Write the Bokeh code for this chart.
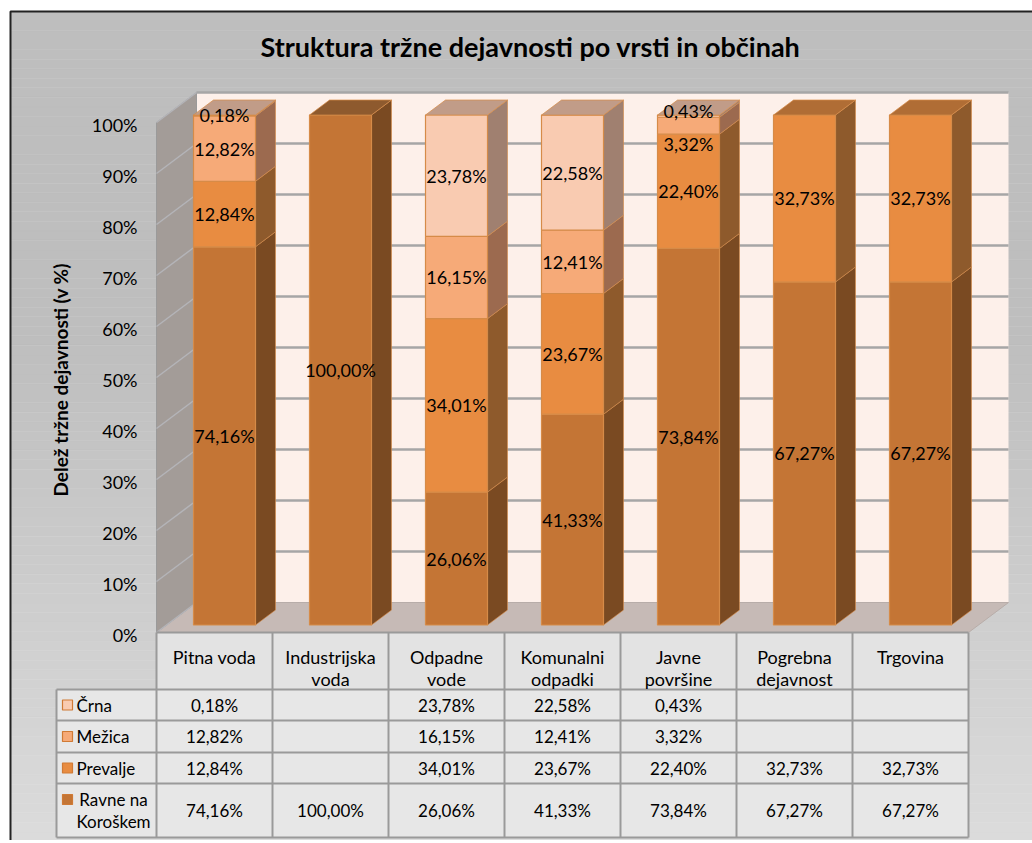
import numpy as np
from bokeh.plotting import figure
from bokeh.models import Range1d
from bokeh.core.properties import value
from bokeh.embed import file_html
from bokeh.resources import INLINE

# ---------------- data ----------------
title_text = "Struktura tržne dejavnosti po vrsti in občinah"
y_axis_title = "Delež tržne dejavnosti  (v %)"
categories = ["Pitna voda", "Industrijska voda", "Odpadne vode", "Komunalni odpadki",
              "Javne površine", "Pogrebna dejavnost", "Trgovina"]
category_lines = [["Pitna voda"], ["Industrijska", "voda"], ["Odpadne", "vode"],
                  ["Komunalni", "odpadki"], ["Javne", "površine"], ["Pogrebna", "dejavnost"],
                  ["Trgovina"]]
series_names = ["Ravne na Koroškem", "Prevalje", "Mežica", "Črna"]   # stacking order (bottom -> top)
legend_labels = ["Ravne na\nKoroškem", "Prevalje", "Mežica", "Črna"]
ravne = [74.16, 100.00, 26.06, 41.33, 73.84, 67.27, 67.27]
prevalje = [12.84, None, 34.01, 23.67, 22.40, 32.73, 32.73]
mezica = [12.82, None, 16.15, 12.41, 3.32, None, None]
crna = [0.18, None, 23.78, 22.58, 0.43, None, None]
series_values = [ravne, prevalje, mezica, crna]
y_ticks = [0, 10, 20, 30, 40, 50, 60, 70, 80, 90, 100]

# ---------------- styles ----------------
front_col = {"Ravne na Koroškem": "#C47535", "Prevalje": "#E88C41", "Mežica": "#F6AA78", "Črna": "#F9CBB1"}
side_col = {"Ravne na Koroškem": "#7A4A22", "Prevalje": "#8E5A2C", "Mežica": "#9C6A4F", "Črna": "#A08070"}
top_col = {"Ravne na Koroškem": "#8E5A2E", "Prevalje": "#B06D35", "Mežica": "#C39A80", "Črna": "#C19C88"}
edge_col = "#D68B48"
FONT = "Lato"
# nudges (pixels, + = down) for crowded data labels, as in the original
label_nudge = {(4, "Črna"): -5, (4, "Mežica"): 18}

# ---------------- geometry (page pixels -> data units) ----------------
W, H = 1032, 840
ORG_X, ORG_Y = 0, 0
PX_CAT, X_CAT0 = 116.0, 214.0       # pixels per category, page x of category 0
PX_PCT, Y_PCT0 = 5.1, 632.0         # pixels per percent, page y of 0 %
def px2x(px): return (px - X_CAT0) / PX_CAT
def py2y(py): return (Y_PCT0 - py) / PX_PCT
def dpx(d): return d / PX_CAT
def dpy(d): return d / PX_PCT

DEPTH_DX, DEPTH_DY = dpx(40), dpy(30)   # full depth offset of the 3D box
BAR_D0, BAR_DEPTH = 0.25, 0.5
BAR_HALF = dpx(62) / 2
n = len(categories)
x_lo, x_hi = -0.5, n - 0.5

p = figure(width=W, height=H, output_backend="svg", toolbar_location=None,
           x_range=Range1d(px2x(ORG_X), px2x(ORG_X + W)), y_range=Range1d(py2y(ORG_Y + H), py2y(ORG_Y)),
           x_axis_location=None, y_axis_location=None, min_border=0)
p.grid.visible = False
p.outline_line_color = None
p.background_fill_color = "white"
p.border_fill_color = "white"

# ---- chart area background (vertical gradient) ----
bands = np.linspace(11, 860, 90)
b_top = py2y(bands[:-1]); b_bot = py2y(bands[1:])
mid = (bands[:-1] + bands[1:]) / 2
g = np.clip(190 + (mid - 330) / (843 - 330) * 30, 190, 222).astype(int)
cols = ["#%02x%02x%02x" % (v, v, v) for v in g]
p.quad(left=px2x(10), right=px2x(1060), top=b_top, bottom=b_bot, fill_color=cols, line_color=cols, line_width=0.5)
p.quad(left=px2x(10), right=px2x(1060), top=py2y(11), bottom=py2y(860), fill_color=None,
       line_color="#222222", line_width=2)

# ---- 3D walls ----
bx0, bx1 = x_lo + DEPTH_DX, x_hi + DEPTH_DX
p.quad(left=bx0, right=bx1, bottom=DEPTH_DY, top=100 + DEPTH_DY, fill_color="#FDF0EA", line_color=None)
p.patch([x_lo, x_hi, bx1, bx0], [0, 0, DEPTH_DY, DEPTH_DY], fill_color="#C6BAB6", line_color="#B8ADA9", line_width=1)
p.patch([x_lo, x_lo, bx0, bx0], [0, 100, 100 + DEPTH_DY, DEPTH_DY], fill_color="#A39C98",
        line_color="#9A9A9A", line_width=1)
gt = [t for t in y_ticks if t > 0]
p.segment(x0=[bx0] * len(gt), x1=[bx1] * len(gt), y0=[t + DEPTH_DY for t in gt], y1=[t + DEPTH_DY for t in gt],
          line_color="#A6A6A6", line_width=2.5)
p.segment(x0=[x_lo] * len(y_ticks), x1=[bx0] * len(y_ticks), y0=y_ticks, y1=[t + DEPTH_DY for t in y_ticks],
          line_color="#B4B4B8", line_width=1.5)

# ---- stacked 3D bars ----
fx_off, fy_off = BAR_D0 * DEPTH_DX, BAR_D0 * DEPTH_DY
sdx, sdy = BAR_DEPTH * DEPTH_DX, BAR_DEPTH * DEPTH_DY
bottoms = [0.0] * n
top_series = [None] * n
for name, vals in zip(series_names, series_values):
    for i, v in enumerate(vals):
        if v:
            top_series[i] = name

lab_x, lab_y, lab_t, lab_off = [], [], [], []
for name, vals in zip(series_names, series_values):
    fl, fr, fb, ft = [], [], [], []
    sxs, sys_ = [], []
    txs, tys = [], []
    for i, v in enumerate(vals):
        if not v:
            continue
        b, t = bottoms[i], bottoms[i] + v
        bottoms[i] = t
        cx = i + fx_off
        xl, xr = cx - BAR_HALF, cx + BAR_HALF
        yb, yt = b + fy_off, t + fy_off
        fl.append(xl); fr.append(xr); fb.append(yb); ft.append(yt)
        sxs.append([xr, xr + sdx, xr + sdx, xr]); sys_.append([yb, yb + sdy, yt + sdy, yt])
        if top_series[i] == name:
            txs.append([xl, xr, xr + sdx, xl + sdx]); tys.append([yt, yt, yt + sdy, yt + sdy])
        lab_x.append(cx); lab_y.append((yb + yt) / 2)
        lab_t.append(("%.2f%%" % v).replace(".", ","))
        lab_off.append(label_nudge.get((i, name), 0))
    p.patches(sxs, sys_, fill_color=side_col[name], line_color=edge_col, line_alpha=0.6, line_width=1)
    p.quad(left=fl, right=fr, bottom=fb, top=ft, fill_color=front_col[name], line_color=edge_col, line_width=1.2)
    if txs:
        p.patches(txs, tys, fill_color=top_col[name], line_color=edge_col, line_alpha=0.7, line_width=1)

p.text(x=lab_x, y=lab_y, text=lab_t, y_offset=lab_off, text_align="center", text_baseline="middle",
       text_font=value(FONT), text_font_size="18px", text_color="#000000")

# ---- y tick labels and axis title ----
p.text(x=[px2x(137)] * len(y_ticks), y=y_ticks, text=["%d%%" % t for t in y_ticks], y_offset=2,
       text_align="right", text_baseline="middle", text_font=value(FONT), text_font_size="18px",
       text_color="#000000")
p.text(x=[px2x(60)], y=[py2y(377)], text=[y_axis_title], angle=np.pi / 2, text_align="center",
       text_baseline="middle", text_font=value(FONT), text_font_size="19px", text_font_style="bold",
       text_color="#000000")
p.text(x=[px2x(530)], y=[py2y(46)], text=[title_text], text_align="center", text_baseline="middle",
       text_font=value(FONT), text_font_size="27px", text_font_style="bold", text_color="#000000")

# ---- data table ----
row_px = [57, 31, 32, 31, 54]     # header, Črna, Mežica, Prevalje, Ravne
edges_py = np.cumsum([Y_PCT0] + row_px)
edges = [py2y(e) for e in edges_py]
leg_left = px2x(56)
grid_c = "#9A9A9A"
p.quad(left=[i - 0.5 for i in range(n)], right=[i + 0.5 for i in range(n)], top=[edges[0]] * n,
       bottom=[edges[1]] * n, fill_color="#E3E3E3", line_color=None)
p.quad(left=leg_left, right=x_hi, top=edges[1], bottom=edges[-1], fill_color="#E7E7E7", line_color=None)
hl_y = edges[1:]
p.segment(x0=[leg_left] * len(hl_y), x1=[x_hi] * len(hl_y), y0=hl_y, y1=hl_y, line_color=grid_c, line_width=2)
p.segment(x0=[x_lo], x1=[x_hi], y0=[edges[0]], y1=[edges[0]], line_color=grid_c, line_width=2)
vx = [i - 0.5 for i in range(n + 1)]
p.segment(x0=vx, x1=vx, y0=[edges[0]] * len(vx), y1=[edges[-1]] * len(vx), line_color=grid_c, line_width=2)
p.segment(x0=[leg_left], x1=[leg_left], y0=[edges[1]], y1=[edges[-1]], line_color=grid_c, line_width=2)

hx, hy, ht, ho = [], [], [], []
for i, lines in enumerate(category_lines):
    for k, ln in enumerate(lines):
        hx.append(i); hy.append(edges[0]); ht.append(ln); ho.append(24 + 22 * k)
p.text(x=hx, y=hy, text=ht, y_offset=ho, text_align="center", text_baseline="middle",
       text_font=value(FONT), text_font_size="18px", text_color="#000000")

row_series = list(reversed(series_names))
row_vals = list(reversed(series_values))
cx_, cy_, ct_ = [], [], []
for r, vals in enumerate(row_vals):
    yc = (edges[r + 1] + edges[r + 2]) / 2
    for i, v in enumerate(vals):
        if v is not None:
            cx_.append(i); cy_.append(yc); ct_.append(("%.2f%%" % v).replace(".", ","))
p.text(x=cx_, y=cy_, text=ct_, text_align="center", text_baseline="middle",
       text_font=value(FONT), text_font_size="17px", text_color="#000000")

leg_names = list(reversed(legend_labels))
for r, name in enumerate(row_series):
    yc = (edges[r + 1] + edges[r + 2]) / 2
    lines = leg_names[r].split("\n")
    if len(lines) == 1:
        p.scatter(x=[px2x(67)], y=[yc], marker="square", size=10, fill_color=front_col[name],
                  line_color="#D07A35", line_width=1.2)
        p.text(x=[px2x(76)], y=[yc], text=[lines[0]], text_align="left", text_baseline="middle",
               text_font=value(FONT), text_font_size="17px", text_color="#000000")
    else:
        p.scatter(x=[px2x(67)], y=[yc + dpy(11)], marker="square", size=10, fill_color=front_col[name],
                  line_color="#D07A35", line_width=1.2)
        p.text(x=[px2x(113)] * len(lines), y=[yc] * len(lines), text=lines,
               y_offset=[-11 + 22 * k for k in range(len(lines))], text_align="center",
               text_baseline="middle", text_font=value(FONT), text_font_size="17px", text_color="#000000")

open("out.html", "w").write(file_html(p, INLINE))
